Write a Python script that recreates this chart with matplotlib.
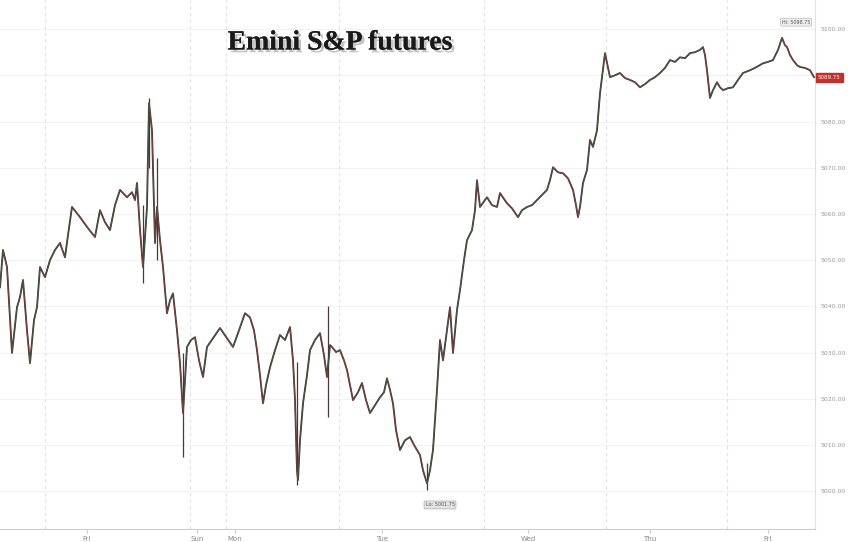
import numpy as np
import matplotlib.pyplot as plt
import matplotlib.patheffects as pe

# tiempo en barras (5 dias de sesion), precio de cierre
bars = [0, 3, 7, 12, 17, 20, 23, 27, 30, 34, 37, 40, 45, 50, 55, 60, 65, 68, 72, 80,
        88, 95, 100, 105, 110, 115, 120, 127, 132, 135, 137, 140, 143, 147, 149, 152, 155, 157, 160, 163,
        167, 170, 173, 177, 180, 183, 187, 191, 195, 199, 203, 207, 213, 220, 227, 233, 239, 245, 250, 254,
        257, 260, 263, 266, 270, 275, 280, 285, 290, 293, 295, 297, 298, 300, 303, 307, 310, 315, 320, 324,
        327, 330, 332, 336, 340, 344, 347, 350, 353, 358, 362, 366, 370, 375, 380, 384, 387, 390, 393, 396,
        400, 405, 410, 414, 417, 420, 423, 427, 430, 433, 435, 437, 440, 443, 447, 450, 453, 457, 460, 464,
        467, 472, 475, 477, 480, 487, 492, 497, 500, 507, 512, 518, 522, 527, 532, 537, 542, 547, 550, 553,
        558, 563, 568, 573, 576, 578, 580, 583, 587, 590, 593, 597, 600, 605, 610, 615, 620, 625, 630, 635,
        640, 645, 650, 655, 660, 665, 670, 675, 680, 685, 690, 695, 700, 703, 705, 707, 710, 713, 717, 720,
        723, 728, 733, 738, 743, 750, 755, 763, 768, 773, 778, 782, 785, 787, 790, 793, 797, 800, 805, 810,
        814]
price = [5044.1, 5052.2, 5048.5, 5029.9, 5039.8, 5042.0, 5045.7, 5034.8, 5027.7, 5037.0,
         5039.8, 5048.5, 5046.3, 5050.0, 5052.2, 5053.7, 5050.6, 5055.4, 5061.5, 5059.3,
         5056.9, 5055.0, 5060.8, 5058.2, 5056.5, 5061.9, 5065.2, 5063.6, 5064.7, 5063.0,
         5066.7, 5056.5, 5048.5, 5061.5, 5084.0, 5078.1, 5053.7, 5061.5, 5054.3, 5048.5,
         5038.5, 5041.3, 5042.8, 5034.8, 5027.7, 5016.9, 5031.2, 5032.7, 5033.3, 5028.3,
         5024.7, 5031.2, 5033.1, 5035.3, 5033.1, 5031.2, 5034.8, 5038.5, 5037.6, 5034.8,
         5030.5, 5025.1, 5019.0, 5022.9, 5026.8, 5030.5, 5033.8, 5032.7, 5035.5, 5028.3,
         5019.7, 5004.5, 5002.4, 5011.0, 5019.0, 5025.1, 5030.5, 5032.7, 5034.2, 5029.4,
         5024.7, 5031.6, 5031.2, 5030.1, 5030.5, 5028.3, 5026.2, 5022.9, 5019.7, 5021.4,
         5023.4, 5019.7, 5016.9, 5018.6, 5020.3, 5021.4, 5024.4, 5021.9, 5019.0, 5013.2,
         5008.9, 5011.0, 5011.7, 5010.0, 5008.9, 5007.8, 5004.5, 5001.7, 5004.5, 5008.9,
         5015.4, 5021.9, 5032.7, 5028.3, 5034.8, 5039.8, 5029.9, 5039.2, 5043.5, 5050.0,
         5054.3, 5056.5, 5060.8, 5067.3, 5061.5, 5063.6, 5061.9, 5061.5, 5064.5, 5062.3,
         5061.2, 5059.3, 5060.8, 5061.5, 5061.9, 5063.0, 5064.1, 5065.2, 5067.3, 5070.1,
         5069.0, 5068.8, 5067.7, 5065.2, 5061.9, 5059.3, 5061.5, 5066.7, 5069.5, 5076.0,
         5074.5, 5078.1, 5086.1, 5094.8, 5089.6, 5090.0, 5090.5, 5089.4, 5089.0, 5088.5,
         5087.4, 5088.1, 5089.0, 5089.6, 5090.5, 5091.6, 5093.3, 5092.9, 5093.9, 5093.7,
         5094.8, 5095.0, 5095.5, 5096.1, 5094.4, 5091.1, 5085.1, 5086.8, 5088.5, 5087.4,
         5086.8, 5087.2, 5087.4, 5089.0, 5090.5, 5091.1, 5091.6, 5092.6, 5092.9, 5093.3,
         5095.5, 5098.1, 5096.5, 5096.1, 5094.4, 5093.3, 5092.2, 5091.8, 5091.6, 5091.1,
         5089.6]

# mechas largas visibles en el grafico
wick_bars = [143, 149, 157, 183, 297, 328, 427]
wick_lo = [5045.0, 5070.0, 5050.0, 5007.3, 5001.3, 5016.0, 5000.2]
wick_hi = [5062.0, 5085.0, 5072.0, 5030.0, 5028.0, 5040.0, 5006.0]

yticks = [5010, 5020, 5030, 5040, 5050, 5060, 5070, 5080, 5100]
day_lines = [45, 190, 226, 339, 484, 606, 727]
day_pos = [87, 197, 235, 382, 528, 650, 768]
day_names = ['Fri', 'Sun', 'Mon', 'Tue', 'Wed', 'Thu', 'Fri']

last_price = '5089.75'
hi_text = 'Hi: 5098.75'
lo_text = 'Lo: 5001.75'

fig = plt.figure(figsize=(8.48, 5.42), dpi=100)
ax = fig.add_axes([0, 0.024, 815 / 848, 0.976])

ax.set_xlim(0, 815)
ax.set_ylim(4991.8, 5106.3)

for y in yticks + [5090, 5000]:
    ax.axhline(y, color='#f3f3f3', lw=0.8, zorder=0)
for x in day_lines:
    ax.axvline(x, color='#e2e2e2', lw=0.8, ls=(0, (3, 3)), zorder=0)

ax.vlines(wick_bars, wick_lo, wick_hi, color='#4a3a36', lw=0.9, zorder=2)
ax.plot(bars, price, color='#3b2f2b', lw=1.3, zorder=3)

# tinte rojo/verde de las velas
b = np.array(bars)
p = np.array(price)
for i in range(len(b) - 1):
    c = '#b5544c' if p[i + 1] < p[i] else '#4f7a62'
    ax.plot(b[i:i + 2], p[i:i + 2], color=c, lw=0.7, alpha=0.55, zorder=4)

ax.yaxis.tick_right()
ax.set_yticks(yticks + [5000])
ax.set_yticklabels(['%.2f' % v for v in yticks + [5000]])
ax.tick_params(axis='y', length=0, labelsize=4.5, labelcolor='#9a9a9a', pad=4)
ax.set_xticks(day_pos)
ax.set_xticklabels(day_names)
ax.tick_params(axis='x', length=3, color='#cccccc', labelsize=5, labelcolor='#888888', pad=2)

for s in ['top', 'left']:
    ax.spines[s].set_visible(False)
ax.spines['right'].set_color('#e0e0e0')
ax.spines['bottom'].set_color('#cccccc')

# etiquetas Hi / Lo / ultimo
ax.text(796, 5101.5, hi_text, fontsize=3.5, color='#555555', ha='center', va='center',
        bbox=dict(boxstyle='round,pad=0.3', fc='#eeeeee', ec='#bbbbbb', lw=0.5))
ax.text(440, 4997.0, lo_text, fontsize=3.5, color='#555555', ha='center', va='center',
        bbox=dict(boxstyle='round,pad=0.3', fc='#e4e4e4', ec='#aaaaaa', lw=0.5))
ax.text(818, 5089.6, last_price, fontsize=4, color='white', ha='left', va='center',
        clip_on=False, bbox=dict(boxstyle='square,pad=0.35', fc='#c0302f', ec='#c0302f'))

fig.text(340 / 848, 1 - 43 / 542, 'Emini S&P futures', fontsize=20, fontweight='bold',
         family='Liberation Serif', ha='center', va='center', color='#1a1a1a',
         path_effects=[pe.withSimplePatchShadow(offset=(2, -2), shadow_rgbFace='#888888', alpha=0.5),
                       pe.Normal()])

fig.savefig('out.png', dpi=100, facecolor='white')
